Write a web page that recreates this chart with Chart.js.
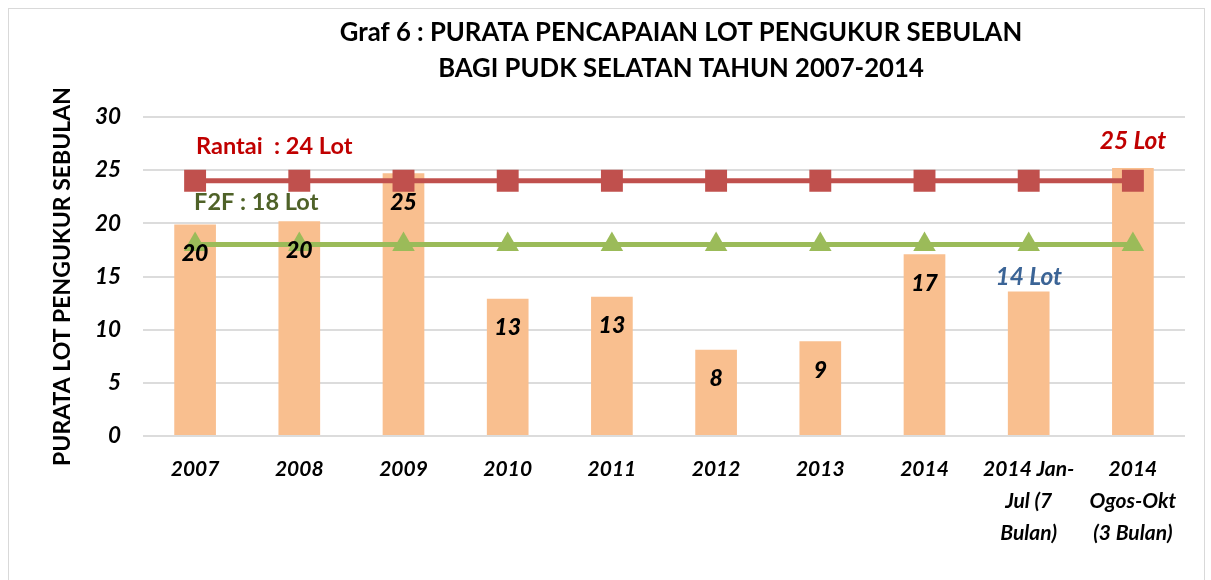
<!DOCTYPE html>
<html>
<head>
<meta charset="utf-8">
<script src="https://cdn.jsdelivr.net/npm/chart.js@4.4.0/dist/chart.umd.min.js"></script>
<style>
  body { margin: 0; background: #fff; }
  #frame { position: absolute; left: 8px; top: 8px; width: 1195px; height: 620px; border: 1px solid #d9d9d9; }
  #wrap { position: absolute; left: 0; top: 0; width: 1211px; height: 580px; }
</style>
</head>
<body>
<div id="frame"></div>
<div id="wrap"><canvas id="chart" width="1211" height="580"></canvas></div>
<script>
// Data
const categories = ['2007', '2008', '2009', '2010', '2011', '2012', '2013', '2014',
  ['2014 Jan-', 'Jul (7', 'Bulan)'], ['2014', 'Ogos-Okt', '(3 Bulan)']];
const lotValues = [19.9, 20.2, 24.7, 12.9, 13.1, 8.1, 8.9, 17.1, 13.6, 25.2];
const rantaiTarget = [24, 24, 24, 24, 24, 24, 24, 24, 24, 24];
const f2fTarget = [18, 18, 18, 18, 18, 18, 18, 18, 18, 18];
const yTicks = [0, 5, 10, 15, 20, 25, 30];

// which bars get a plain value label, and the two callouts
const showValue = [true, true, true, true, true, true, true, true, false, false];
const calloutText = [null, null, null, null, null, null, null, null, '14 Lot', '25 Lot'];
const calloutColor = [null, null, null, null, null, null, null, null, '#3B6496', '#C00000'];

const titleLines = ['Graf 6 : PURATA PENCAPAIAN LOT PENGUKUR SEBULAN', 'BAGI PUDK SELATAN TAHUN 2007-2014'];
const FONT = 'Lato, "Open Sans", sans-serif';

const labelsPlugin = {
  id: 'labels',
  afterDatasetsDraw(chart) {
    const ctx = chart.ctx;
    const area = chart.chartArea;
    const y = chart.scales.y;
    const x = chart.scales.x;
    const bars = chart.getDatasetMeta(0).data;
    ctx.save();
    ctx.textAlign = 'center';
    ctx.textBaseline = 'middle';

    // values inside the bars
    ctx.font = 'italic 900 23px ' + FONT;
    ctx.fillStyle = '#000';
    bars.forEach((bar, i) => {
      if (showValue[i]) ctx.fillText(String(Math.round(lotValues[i])), bar.x, bar.y + 29);
    });

    // callouts above last two bars
    ctx.font = 'italic bold 24.5px ' + FONT;
    bars.forEach((bar, i) => {
      if (!calloutText[i]) return;
      ctx.fillStyle = calloutColor[i];
      ctx.fillText(calloutText[i], bar.x, bar.y - (i === 9 ? 27 : 14));
    });

    // line names
    ctx.textAlign = 'left';
    ctx.font = 'bold 23.5px ' + FONT;
    ctx.fillStyle = '#C00000';
    ctx.fillText('Rantai  : 24 Lot', x.getPixelForValue(0) + 1, y.getPixelForValue(rantaiTarget[0]) - 34);
    ctx.fillStyle = '#4F6228';
    ctx.fillText('F2F : 18 Lot', x.getPixelForValue(0) - 1, y.getPixelForValue(rantaiTarget[0]) + 22);

    // title
    ctx.textAlign = 'center';
    ctx.fillStyle = '#000';
    ctx.font = 'bold 25.7px ' + FONT;
    const cx = (area.left + area.right) / 2 + 17;
    ctx.fillText(titleLines[0], cx, 33);
    ctx.fillText(titleLines[1], cx, 69);
    ctx.restore();
  }
};

new Chart(document.getElementById('chart'), {
  data: {
    labels: categories,
    datasets: [
      {
        type: 'bar',
        label: 'Purata',
        data: lotValues,
        backgroundColor: '#F9BF8F',
        categoryPercentage: 1,
        barPercentage: 0.4,
        order: 3
      },
      {
        type: 'line',
        label: 'Rantai',
        data: rantaiTarget,
        borderColor: '#C0504D',
        backgroundColor: '#C0504D',
        borderWidth: 5,
        pointStyle: 'rect',
        pointRadius: 15.5,
        pointBorderWidth: 0,
        order: 1
      },
      {
        type: 'line',
        label: 'F2F',
        data: f2fTarget,
        borderColor: '#9BBB59',
        backgroundColor: '#9BBB59',
        borderWidth: 5,
        pointStyle: 'triangle',
        pointRadius: 13,
        pointBorderWidth: 0,
        order: 2
      }
    ]
  },
  options: {
    responsive: false,
    animation: false,
    layout: { padding: { left: 49, right: 26, top: 117, bottom: 0 } },
    plugins: {
      legend: { display: false },
      tooltip: { enabled: false },
      title: { display: false }
    },
    scales: {
      x: {
        grid: { display: false },
        border: { display: false },
        ticks: {
          color: '#000',
          padding: 9,
          maxRotation: 0,
          autoSkip: false,
          font: { family: FONT, size: 21, weight: 'bold', style: 'italic', lineHeight: '32px' }
        },
        afterFit(scale) { scale.height = 144; }
      },
      y: {
        min: 0,
        max: 30,
        afterBuildTicks(scale) { scale.ticks = yTicks.map(v => ({ value: v })); },
        grid: { color: '#dcdcdc', lineWidth: 2, drawTicks: false },
        border: { display: false },
        ticks: {
          color: '#000',
          padding: 22,
          font: { family: FONT, size: 22.5, weight: 'bold', style: 'italic' }
        },
        title: {
          display: true,
          text: 'PURATA LOT PENGUKUR SEBULAN',
          color: '#000',
          padding: 0,
          font: { family: FONT, size: 23, weight: 'bold', lineHeight: 1.2 }
        },
        afterFit(scale) { scale.width = 94; }
      }
    }
  },
  plugins: [labelsPlugin]
});
</script>
</body>
</html>
